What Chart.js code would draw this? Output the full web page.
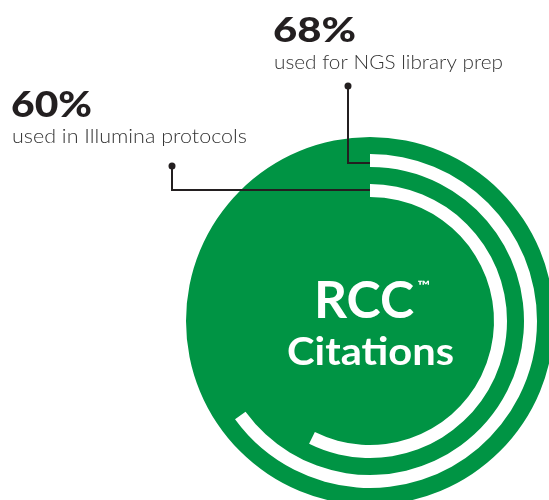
<!DOCTYPE html>
<html>
<head>
<meta charset="utf-8">
<script src="https://cdn.jsdelivr.net/npm/chart.js@4.4.1/dist/chart.umd.min.js"></script>
<style>
html, body { margin: 0; padding: 0; background: #fff; overflow: hidden; }
#wrap { position: relative; width: 549px; height: 500px; }
#wrap canvas { position: absolute; left: 0; top: 0; }
</style>
</head>
<body>
<div id="wrap">
  <canvas id="disk" width="549" height="500"></canvas>
  <canvas id="rings" width="549" height="500"></canvas>
</div>
<script>
// share of RCC citations
const uses = ['used for NGS library prep', 'used in Illumina protocols'];
const shares = [68, 60];
const rests = shares.map(v => 100 - v);

const green = '#009444';
const ink = '#231f20';

// where the call-out text sits (label boxes, not marks)
const callouts = [
    {x: 273, y: 42, w: 83, size: 35, subY: 69, subW: 229, dot: [348, 86], elbowY: 163, ds: 1},
    {x: 11, y: 117, w: 81, size: 36, subY: 143, subW: 235, dot: [172, 166], elbowY: 190, ds: 3}
];

// draw text stretched to a given width (the original face is wider than Lato)
function drawFit(ctx, text, font, x, y, width) {
    ctx.save();
    ctx.font = font;
    ctx.textAlign = 'left';
    ctx.textBaseline = 'alphabetic';
    const w = ctx.measureText(text).width;
    ctx.translate(x, y);
    ctx.scale(width / w, 1);
    ctx.fillText(text, 0, 0);
    ctx.restore();
}

/*GREEN DISK*/
let diskCtx = document.getElementById('disk').getContext('2d');
let diskChart = new Chart(diskCtx, {
    type: 'pie',
    data: {
        labels: ['RCC Citations'],
        datasets: [{
            data: [100],
            backgroundColor: [green],
            borderWidth: 0
        }]
    },
    options: {
        responsive: false,
        animation: false,
        events: [],
        radius: 184,
        layout: { padding: { left: 191, top: 142, right: 0, bottom: 0 } },
        plugins: { legend: { display: false }, tooltip: { enabled: false } }
    }
});

/*WHITE ARCS + CALL-OUTS*/
const calloutPlugin = {
    id: 'callouts',
    afterDraw(chart) {
        const ctx = chart.ctx;
        ctx.save();
        callouts.forEach((c, i) => {
            const arc = chart.getDatasetMeta(c.ds).data[0];
            ctx.strokeStyle = ink;
            ctx.lineWidth = 2;
            ctx.beginPath();
            ctx.moveTo(c.dot[0], c.dot[1]);
            ctx.lineTo(c.dot[0], c.elbowY);
            ctx.lineTo(arc.x, c.elbowY);
            ctx.stroke();
            ctx.fillStyle = ink;
            ctx.beginPath();
            ctx.arc(c.dot[0], c.dot[1], 3.5, 0, Math.PI * 2);
            ctx.fill();

            drawFit(ctx, shares[i] + '%', '900 ' + c.size + 'px Lato', c.x, c.y, c.w);
            ctx.fillStyle = '#333';
            drawFit(ctx, uses[i], '300 19px Lato', c.x + 1, c.subY, c.subW);
        });

        // centre title
        const arc = chart.getDatasetMeta(1).data[0];
        ctx.fillStyle = '#fff';
        drawFit(ctx, 'RCC', 'bold 51px Lato', arc.x - 56, 317.5, 100);
        drawFit(ctx, '™', 'bold 13px Lato', arc.x + 47, 289.5, 13);
        drawFit(ctx, 'Citations', 'bold 39px Lato', arc.x - 83, 365, 167);
        ctx.restore();
    }
};

const clear = 'rgba(0,0,0,0)';
let ringCtx = document.getElementById('rings').getContext('2d');
let ringChart = new Chart(ringCtx, {
    type: 'doughnut',
    data: {
        labels: ['share', 'rest'],
        datasets: [
            { data: [100], backgroundColor: [clear], borderWidth: 0, weight: 17 },
            { data: [shares[0], rests[0]], backgroundColor: ['#fff', clear], borderWidth: 0, weight: 13, circumference: 344 },
            { data: [100], backgroundColor: [clear], borderWidth: 0, weight: 17 },
            { data: [shares[1], rests[1]], backgroundColor: ['#fff', clear], borderWidth: 0, weight: 13, circumference: 344 },
            { data: [100], backgroundColor: [clear], borderWidth: 0, weight: 124 }
        ]
    },
    options: {
        responsive: false,
        animation: false,
        events: [],
        cutout: 0,
        radius: 184,
        layout: { padding: { left: 191, top: 142, right: 0, bottom: 0 } },
        plugins: { legend: { display: false }, tooltip: { enabled: false } }
    },
    plugins: [calloutPlugin]
});
</script>
</body>
</html>
